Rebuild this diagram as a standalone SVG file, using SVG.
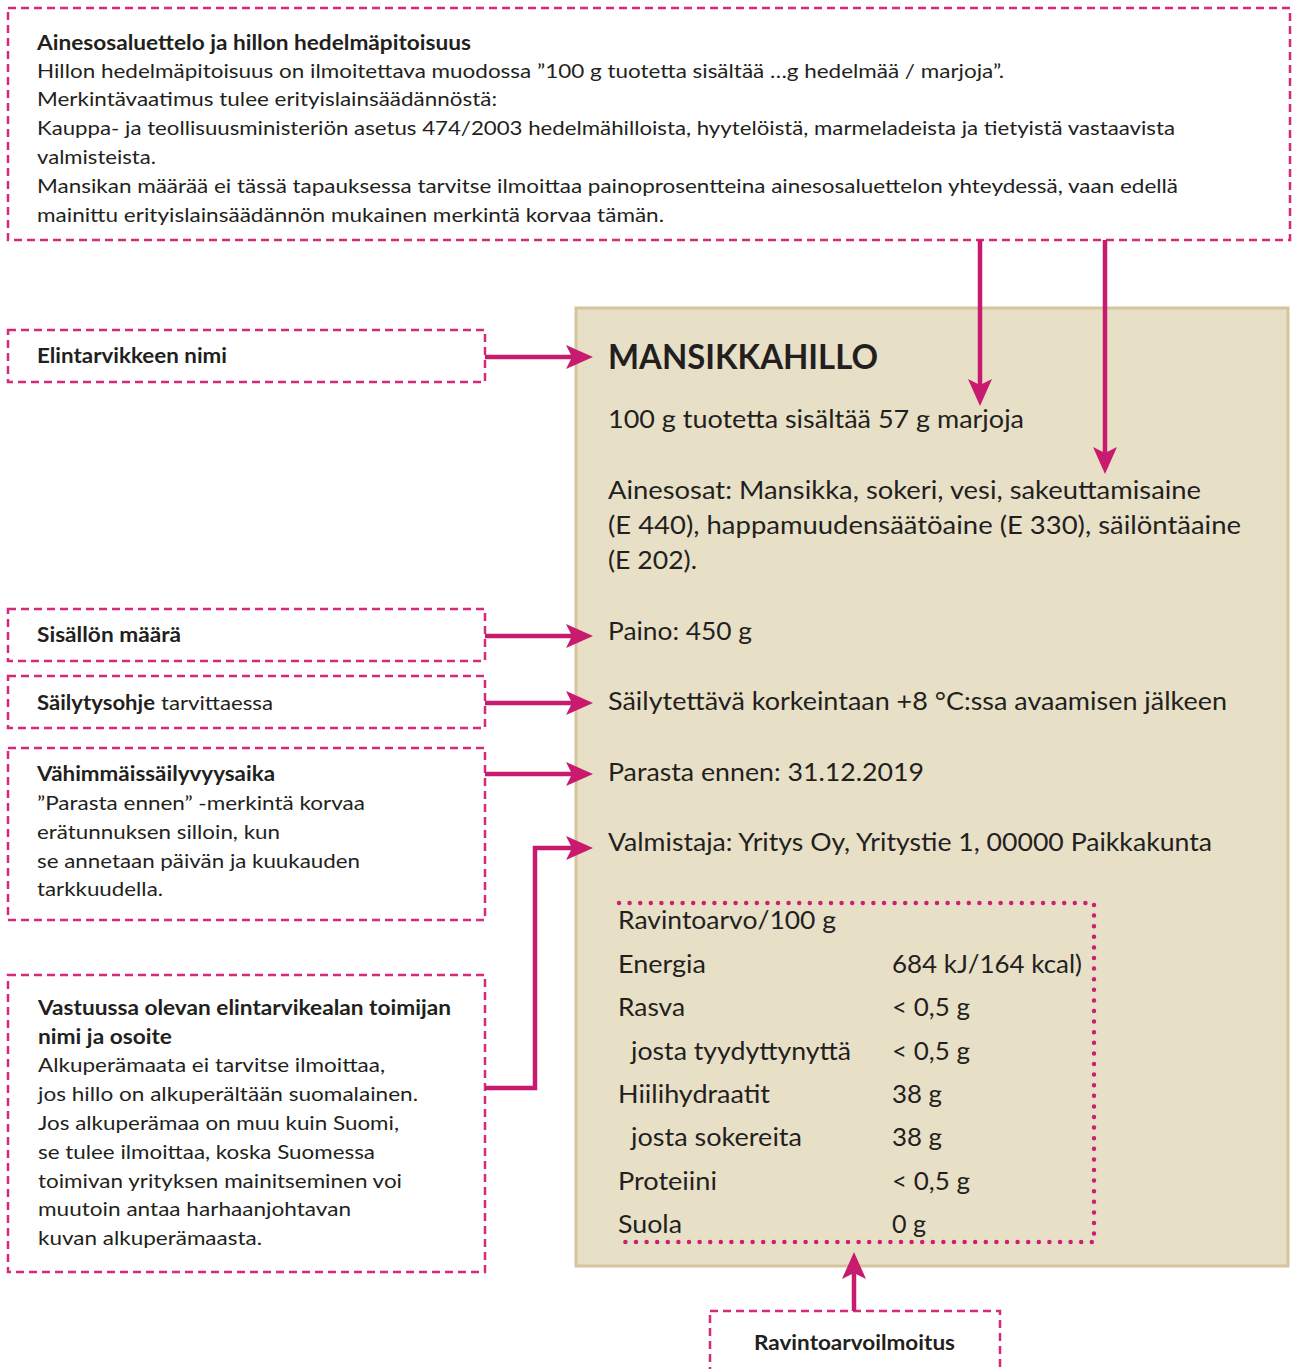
<svg xmlns="http://www.w3.org/2000/svg" width="1292" height="1369" viewBox="0 0 1292 1369">
<style>
.t{font-family:Lato,"Liberation Sans",sans-serif;fill:#231f20;font-size:20px}
.b{font-weight:bold}
.L{font-size:25.5px}
.h{font-size:35px;font-weight:bold}
.dash{fill:#fff;stroke:#d42a78;stroke-width:2.5;stroke-dasharray:8 5}
.con{fill:none;stroke:#c81a6e;stroke-width:4.5}
.dot{fill:none;stroke:#cc1f70;stroke-width:4.5;stroke-linecap:round;stroke-dasharray:0 10.6}
</style>
<defs>
<marker id="ah" markerUnits="userSpaceOnUse" markerWidth="28" markerHeight="24" refX="6" refY="12" orient="auto">
<path d="M0,0 L27,12 L0,24 L6,12 Z" fill="#c81a6e"/>
</marker>
</defs>
<rect width="1292" height="1369" fill="#fff"/>

<g id="label">
<rect x="576" y="308" width="712" height="958" fill="#e8dfc7" stroke="#d6c49c" stroke-width="3"/>
<text class="t h" x="608" y="369" textLength="270" lengthAdjust="spacingAndGlyphs">MANSIKKAHILLO</text>
<text class="t L" x="608" y="428" textLength="416" lengthAdjust="spacingAndGlyphs">100 g tuotetta sisältää 57 g marjoja</text>
<text class="t L" x="608" y="499" textLength="593" lengthAdjust="spacingAndGlyphs">Ainesosat: Mansikka, sokeri, vesi, sakeuttamisaine</text>
<text class="t L" x="608" y="534" textLength="633" lengthAdjust="spacingAndGlyphs">(E 440), happamuudensäätöaine (E 330), säilöntäaine</text>
<text class="t L" x="608" y="569" textLength="89" lengthAdjust="spacingAndGlyphs">(E 202).</text>
<text class="t L" x="608" y="640" textLength="144" lengthAdjust="spacingAndGlyphs">Paino: 450 g</text>
<text class="t L" x="608" y="710" textLength="619" lengthAdjust="spacingAndGlyphs">Säilytettävä korkeintaan +8 °C:ssa avaamisen jälkeen</text>
<text class="t L" x="608" y="781" textLength="316" lengthAdjust="spacingAndGlyphs">Parasta ennen: 31.12.2019</text>
<text class="t L" x="608" y="851" textLength="604" lengthAdjust="spacingAndGlyphs">Valmistaja: Yritys Oy, Yritystie 1, 00000 Paikkakunta</text>
</g>

<g id="nutrition">
<path class="dot" d="M619,903 L1094,903 L1094,1242 L619,1242"/>
<text class="t L" x="618" y="929" textLength="218" lengthAdjust="spacingAndGlyphs">Ravintoarvo/100 g</text>
<text class="t L" x="618" y="973" textLength="88" lengthAdjust="spacingAndGlyphs">Energia</text>
<text class="t L" x="892" y="973" textLength="190" lengthAdjust="spacingAndGlyphs">684 kJ/164 kcal)</text>
<text class="t L" x="618" y="1016" textLength="67" lengthAdjust="spacingAndGlyphs">Rasva</text>
<text class="t L" x="892" y="1016" textLength="78" lengthAdjust="spacingAndGlyphs">&lt; 0,5 g</text>
<text class="t L" x="631" y="1060" textLength="220" lengthAdjust="spacingAndGlyphs">josta tyydyttynyttä</text>
<text class="t L" x="892" y="1060" textLength="78" lengthAdjust="spacingAndGlyphs">&lt; 0,5 g</text>
<text class="t L" x="618" y="1103" textLength="152" lengthAdjust="spacingAndGlyphs">Hiilihydraatit</text>
<text class="t L" x="892" y="1103" textLength="50" lengthAdjust="spacingAndGlyphs">38 g</text>
<text class="t L" x="631" y="1146" textLength="171" lengthAdjust="spacingAndGlyphs">josta sokereita</text>
<text class="t L" x="892" y="1146" textLength="50" lengthAdjust="spacingAndGlyphs">38 g</text>
<text class="t L" x="618" y="1190" textLength="99" lengthAdjust="spacingAndGlyphs">Proteiini</text>
<text class="t L" x="892" y="1190" textLength="78" lengthAdjust="spacingAndGlyphs">&lt; 0,5 g</text>
<text class="t L" x="618" y="1233" textLength="64" lengthAdjust="spacingAndGlyphs">Suola</text>
<text class="t L" x="892" y="1233" textLength="34" lengthAdjust="spacingAndGlyphs">0 g</text>
</g>

<g id="ingredients-note">
<rect class="dash" x="8" y="8" width="1282" height="232"/>
<text class="t b" x="37" y="50" textLength="434" lengthAdjust="spacingAndGlyphs">Ainesosaluettelo ja hillon hedelmäpitoisuus</text>
<text class="t" x="37" y="78" textLength="967" lengthAdjust="spacingAndGlyphs">Hillon hedelmäpitoisuus on ilmoitettava muodossa ”100 g tuotetta sisältää …g hedelmää / marjoja”.</text>
<text class="t" x="37" y="106" textLength="460" lengthAdjust="spacingAndGlyphs">Merkintävaatimus tulee erityislainsäädännöstä:</text>
<text class="t" x="37" y="135" textLength="1138" lengthAdjust="spacingAndGlyphs">Kauppa- ja teollisuusministeriön asetus 474/2003 hedelmähilloista, hyytelöistä, marmeladeista ja tietyistä vastaavista</text>
<text class="t" x="37" y="164" textLength="119" lengthAdjust="spacingAndGlyphs">valmisteista.</text>
<text class="t" x="37" y="193" textLength="1141" lengthAdjust="spacingAndGlyphs">Mansikan määrää ei tässä tapauksessa tarvitse ilmoittaa painoprosentteina ainesosaluettelon yhteydessä, vaan edellä</text>
<text class="t" x="37" y="222" textLength="627" lengthAdjust="spacingAndGlyphs">mainittu erityislainsäädännön mukainen merkintä korvaa tämän.</text>
</g>

<g id="name-note">
<rect class="dash" x="8" y="330" width="477" height="52"/>
<text class="t b" x="37" y="363" textLength="190" lengthAdjust="spacingAndGlyphs">Elintarvikkeen nimi</text>
</g>

<g id="quantity-note">
<rect class="dash" x="8" y="609" width="477" height="52"/>
<text class="t b" x="37" y="642" textLength="144" lengthAdjust="spacingAndGlyphs">Sisällön määrä</text>
</g>

<g id="storage-note">
<rect class="dash" x="8" y="676" width="477" height="52"/>
<text class="t b" x="37" y="710" textLength="118" lengthAdjust="spacingAndGlyphs">Säilytysohje</text>
<text class="t" x="161" y="710" textLength="112" lengthAdjust="spacingAndGlyphs">tarvittaessa</text>
</g>

<g id="date-note">
<rect class="dash" x="8" y="748" width="477" height="172"/>
<text class="t b" x="37" y="781" textLength="238" lengthAdjust="spacingAndGlyphs">Vähimmäissäilyvyysaika</text>
<text class="t" x="37" y="810" textLength="328" lengthAdjust="spacingAndGlyphs">”Parasta ennen” -merkintä korvaa</text>
<text class="t" x="37" y="839" textLength="243" lengthAdjust="spacingAndGlyphs">erätunnuksen silloin, kun</text>
<text class="t" x="37" y="868" textLength="323" lengthAdjust="spacingAndGlyphs">se annetaan päivän ja kuukauden</text>
<text class="t" x="37" y="896" textLength="126" lengthAdjust="spacingAndGlyphs">tarkkuudella.</text>
</g>

<g id="operator-note">
<rect class="dash" x="8" y="975" width="477" height="297"/>
<text class="t b" x="38" y="1015" textLength="413" lengthAdjust="spacingAndGlyphs">Vastuussa olevan elintarvikealan toimijan</text>
<text class="t b" x="38" y="1044" textLength="134" lengthAdjust="spacingAndGlyphs">nimi ja osoite</text>
<text class="t" x="38" y="1072" textLength="347" lengthAdjust="spacingAndGlyphs">Alkuperämaata ei tarvitse ilmoittaa,</text>
<text class="t" x="38" y="1101" textLength="380" lengthAdjust="spacingAndGlyphs">jos hillo on alkuperältään suomalainen.</text>
<text class="t" x="38" y="1130" textLength="361" lengthAdjust="spacingAndGlyphs">Jos alkuperämaa on muu kuin Suomi,</text>
<text class="t" x="38" y="1159" textLength="337" lengthAdjust="spacingAndGlyphs">se tulee ilmoittaa, koska Suomessa</text>
<text class="t" x="38" y="1188" textLength="364" lengthAdjust="spacingAndGlyphs">toimivan yrityksen mainitseminen voi</text>
<text class="t" x="38" y="1216" textLength="313" lengthAdjust="spacingAndGlyphs">muutoin antaa harhaanjohtavan</text>
<text class="t" x="38" y="1245" textLength="224" lengthAdjust="spacingAndGlyphs">kuvan alkuperämaasta.</text>
</g>

<g id="nutrition-note">
<rect class="dash" x="710" y="1311" width="290" height="80"/>
<text class="t b" x="754" y="1350" textLength="201" lengthAdjust="spacingAndGlyphs">Ravintoarvoilmoitus</text>
</g>

<g id="connectors">
<line class="con" x1="485" y1="357" x2="572" y2="357" marker-end="url(#ah)"/>
<line class="con" x1="980" y1="240" x2="980" y2="385" marker-end="url(#ah)"/>
<line class="con" x1="1105" y1="240" x2="1105" y2="453" marker-end="url(#ah)"/>
<line class="con" x1="485" y1="636" x2="572" y2="636" marker-end="url(#ah)"/>
<line class="con" x1="485" y1="703" x2="572" y2="703" marker-end="url(#ah)"/>
<line class="con" x1="485" y1="774" x2="572" y2="774" marker-end="url(#ah)"/>
<polyline class="con" points="485,1088 535,1088 535,848 572,848" marker-end="url(#ah)"/>
<line class="con" x1="854" y1="1311" x2="854" y2="1273" marker-end="url(#ah)"/>
</g>
</svg>
